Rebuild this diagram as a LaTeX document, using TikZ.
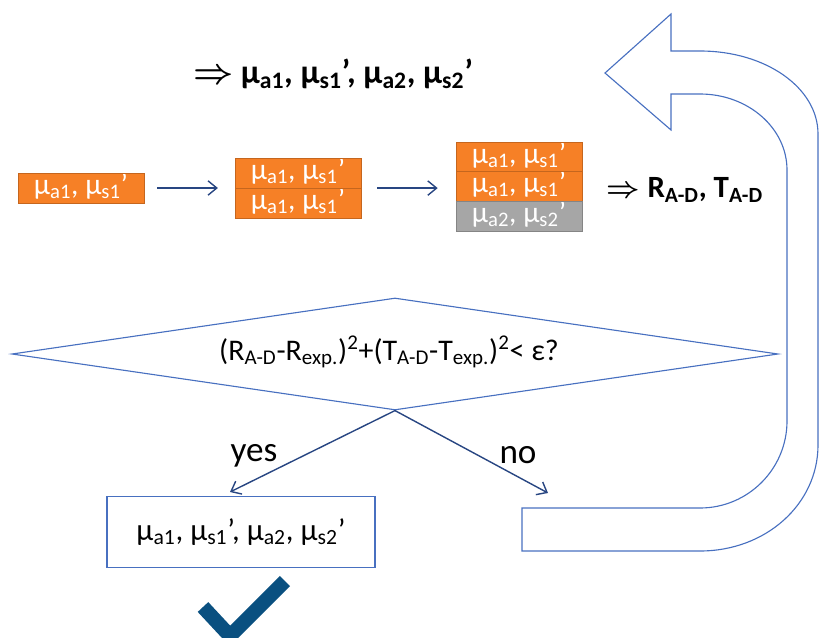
\documentclass[tikz,border=0pt]{standalone}
\usepackage{fontspec}
\setmainfont{Carlito}
\usepackage{tikz}
\usetikzlibrary{shapes.geometric,arrows.meta}

\definecolor{layerorange}{RGB}{246,128,38}
\definecolor{layergray}{RGB}{166,166,166}
\definecolor{outlineblue}{RGB}{72,112,192}
\definecolor{arrowblue}{RGB}{40,70,130}
\definecolor{checkblue}{RGB}{10,80,128}

\newcommand{\mus}[1]{μ\textsubscript{#1}}
\newcommand{\bigfont}{\fontsize{21}{25}\selectfont}

\begin{document}
\begin{tikzpicture}[x=0.025cm, y=-0.025cm,
  every node/.style={font=\bigfont},
  layer/.style 2 args={draw=#1!80!black, fill=#1, minimum width=3.15cm,
    minimum height=0.74cm, inner sep=0pt,
    path picture={\node[white, anchor=base, inner sep=0pt, text height=0.3cm, text depth=0pt,
      font=\fontsize{21}{25}\selectfont] at ([yshift=-0.15cm]path picture bounding box.center) {#2};}},
  flow/.style={draw=arrowblue, line width=1pt, -{Straight Barb[length=2.2mm,width=3.6mm]}},
  outline/.style={draw=outlineblue, line width=0.8pt}]
\useasboundingbox (0,0) rectangle (820,637);

% result of the fit
\node[font=\fontsize{24}{28}\selectfont\bfseries\boldmath] (fit) at (333,74) {$\Rightarrow$ \mus{a1}, \mus{s1}’, \mus{a2}, \mus{s2}’};

% one layer, two layers, three layers
\node[layer={layerorange}{\mus{a1}, \mus{s1}’}] (one) at (81,188) {};

\node[layer={layerorange}{\mus{a1}, \mus{s1}’}] (twoa) at (298,173) {};
\node[layer={layerorange}{\mus{a1}, \mus{s1}’}] (twob) at (298,203) {};

\node[layer={layerorange}{\mus{a1}, \mus{s1}’}] (threea) at (519,157) {};
\node[layer={layerorange}{\mus{a1}, \mus{s1}’}] (threeb) at (519,186.5) {};
\node[layer={layergray}{\mus{a2}, \mus{s2}’}] (threec) at (519,216) {};

\node[font=\fontsize{22}{26}\selectfont\bfseries\boldmath, anchor=west] (rt) at (602,190) {$\Rightarrow$ R\textsubscript{A-D}, T\textsubscript{A-D}};

\draw[flow] ([xshift=0.32cm]one.east) coordinate (s1) -- ([xshift=-0.42cm]twoa.south west |- s1);
\draw[flow] ([xshift=0.4cm]twoa.south east) coordinate (s2) -- ([xshift=-0.45cm]threeb.west |- s2);

% test
\node[diamond, outline, minimum width=19.15cm, minimum height=2.8cm, inner sep=0pt] (test) at (395,354) {};
\node[font=\fontsize{21.3}{25}\selectfont] (cond) at (389,352) {(R\textsubscript{A-D}-R\textsubscript{exp.})\textsuperscript{2}+(T\textsubscript{A-D}-T\textsubscript{exp.})\textsuperscript{2}< ε?};

\node[draw=outlineblue, line width=0.8pt, minimum width=6.7cm, minimum height=1.78cm] (res) at (241,532) {\fontsize{22}{26}\selectfont\mus{a1}, \mus{s1}’, \mus{a2}, \mus{s2}’};

\coordinate (yesend) at (230,492);
\coordinate (noend) at (548,493);
\draw[flow] (test.south) -- (yesend);
\draw[flow] (test.south) -- (noend);
\node[font=\fontsize{25}{29}\selectfont] (yes) at (254,456) {yes};
\node[font=\fontsize{25}{29}\selectfont] (no) at (518,455) {no};

% loop back arrow
\draw[outline, line join=miter]
  (671,51) -- (700,51) .. controls (766,51) and (818,88) .. (818,134)
  -- (818,445) .. controls (818,504) and (766,551) .. (700,551)
  -- (522,551) -- (522,508) -- (700,508)
  .. controls (748,508) and (787,469) .. (787,421)
  -- (787,170) .. controls (787,128) and (748,94) .. (700,94)
  -- (671,94) -- (671,130) -- (605,73) -- (671,14) -- cycle;

% check mark
\draw[checkblue, line width=0.36cm, line join=miter] (203,607) -- (230,636) -- (285,581);
\end{tikzpicture}
\end{document}
